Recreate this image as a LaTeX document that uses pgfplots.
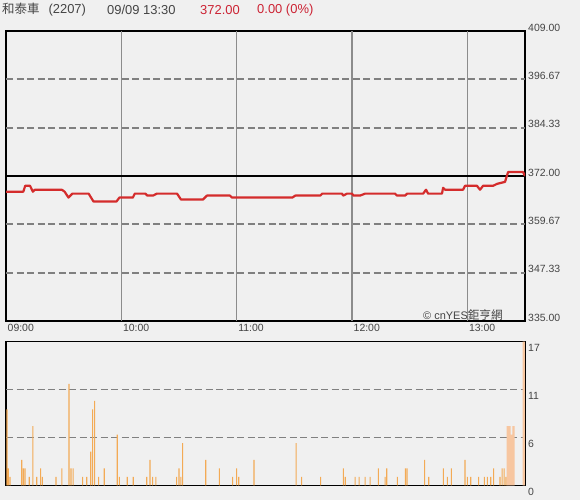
\documentclass[border=0pt]{standalone}
\usepackage{fontspec}
\setmainfont{Liberation Sans}
\newfontfamily\cjk{Noto Sans CJK TC}
\usepackage{pgfplots}
\pgfplotsset{compat=1.18}
\definecolor{bg}{HTML}{F0F0F0}
\definecolor{gridc}{HTML}{808080}
\definecolor{vgridc}{HTML}{8C8C8C}
\definecolor{pricered}{HTML}{D42C2C}
\definecolor{titlered}{HTML}{CC2233}
\definecolor{txt}{HTML}{444444}
\definecolor{vol}{HTML}{F3AA55}
\definecolor{volpeach}{HTML}{F7C6A0}
\begin{document}
\begin{tikzpicture}
\path[use as bounding box, fill=bg] (0,0) rectangle (580bp,500bp);
% ---------- price panel ----------
\begin{axis}[
  scale only axis, width=519bp, height=290bp, at={(6bp,179bp)}, anchor=south west,
  xmin=0, xmax=270, ymin=335, ymax=409,
  axis line style={black, line width=1.4bp},
  xtick={0,60,120,180,240}, xticklabels={09:00,10:00,11:00,12:00,13:00},
  xticklabel style={anchor=north west, inner sep=0pt, xshift=1.5bp, yshift=-3bp},
  ytick={335,347.3333,359.6667,372,384.3333,396.6667,409},
  yticklabels={335.00,347.33,359.67,372.00,384.33,396.67,409.00},
  yticklabel pos=right,
  yticklabel style={anchor=west, inner sep=0pt, xshift=3bp, yshift=3.5bp},
  major tick length=0pt,
  tick label style={font=\fontsize{10.5}{12}\selectfont, text=txt},
]
\draw[vgridc, line width=1.3bp] (axis cs:60,335) -- (axis cs:60,409);
\draw[vgridc, line width=1.3bp] (axis cs:120,335) -- (axis cs:120,409);
\draw[vgridc, line width=1.3bp] (axis cs:180,335) -- (axis cs:180,409);
\draw[vgridc, line width=1.3bp] (axis cs:240,335) -- (axis cs:240,409);
\draw[gridc, line width=1.8bp, dash pattern=on 7bp off 3.5bp] (axis cs:0,347.3333) -- (axis cs:270,347.3333);
\draw[gridc, line width=1.8bp, dash pattern=on 7bp off 3.5bp] (axis cs:0,359.6667) -- (axis cs:270,359.6667);
\draw[gridc, line width=1.8bp, dash pattern=on 7bp off 3.5bp] (axis cs:0,384.3333) -- (axis cs:270,384.3333);
\draw[gridc, line width=1.8bp, dash pattern=on 7bp off 3.5bp] (axis cs:0,396.6667) -- (axis cs:270,396.6667);
\draw[black, line width=1.4bp] (axis cs:0,372) -- (axis cs:270,372);
\addplot[pricered, line width=2.2bp, line join=round] coordinates {
(0,368) (9,368) (10,369.5) (12.5,369.5) (14,368) (15,368.5) (29,368.5) (30.5,368)
(32.5,366.5) (34.5,367.5) (43,367.5) (45.5,365.5) (57.5,365.5) (59,366.5) (66,366.5)
(67,367.5) (72.5,367.5) (73.5,367) (76.5,367) (78.5,367.5) (89,367.5) (91,366)
(102.5,366) (104.5,367) (116.5,367) (117.5,366.5) (149,366.5) (150.5,367) (163.5,367)
(164.5,367.5) (174.8,367.5) (175.4,367) (177.4,367.5) (180,367.5) (180.8,367) (184.2,367)
(186.8,367.5) (202.4,367.5) (203.4,367) (207.6,367) (208.7,367.5) (217,367.5) (218.5,368.5)
(219.6,367.5) (226.8,367.5) (227.4,369) (228.4,368.5) (237.8,368.5) (238.8,369.5) (245,369.5)
(246.6,368.5) (248.2,369.5) (253.4,369.5) (255.5,370) (259.6,370.5) (261.2,373) (269,373) (270,372)
};
\end{axis}
% ---------- volume panel ----------
\begin{axis}[
  scale only axis, width=519bp, height=143.6bp, at={(6bp,14.7bp)}, anchor=south west,
  xmin=0, xmax=270, ymin=0, ymax=17,
  axis line style={black, line width=1.4bp},
  xtick=\empty,
  ytick={0,5.6667,11.3333,17}, yticklabels={0,6,11,17},
  yticklabel pos=right,
  yticklabel style={anchor=west, inner sep=0pt, xshift=3bp, yshift=-6.5bp},
  major tick length=0pt,
  tick label style={font=\fontsize{10.5}{12}\selectfont, text=txt},
]
\draw[gridc, line width=1.8bp, dash pattern=on 7bp off 3.5bp] (axis cs:0,5.6667) -- (axis cs:270,5.6667);
\draw[gridc, line width=1.8bp, dash pattern=on 7bp off 3.5bp] (axis cs:0,11.3333) -- (axis cs:270,11.3333);
\addplot[ybar, bar width=1.1bp, bar shift=0pt, fill=vol, draw=none] coordinates {
(0.5,9) (1.2,2) (2.1,1) (8.2,3) (9,2) (9.9,2) (12.1,1) (14,7) (16,1) (18,2) (18.9,1)
(26,1) (29.1,2) (32.8,12) (33.8,2) (34.9,2) (39.9,1) (42,1) (44.1,4) (45.1,9) (46.1,10)
(48.2,1) (51.1,2) (57.9,6) (59,1) (63.1,1) (66.2,1) (73.2,1) (74.9,3) (76.3,1) (78,1)
(88.8,1) (90,2) (91,1) (91.9,5) (103.9,3) (111,2) (117.9,1) (120,2) (121.1,1) (129,3)
(150.9,5) (153.8,1) (163.7,1) (175.5,2) (176.5,1) (181.6,1) (183.7,1) (186.8,1) (189.4,1)
(193.7,2) (197.2,1) (198.1,2) (203.6,1) (207.8,2) (208.6,2) (217.8,3) (219.9,1) (227.5,2)
(229.6,1) (231.7,2) (238.8,3) (240,1) (241.8,1) (245.9,1) (248.9,1) (250.4,1) (252.2,1)
(253.7,2) (257,1) (258.1,2) (259.1,2) (260.1,1)
};
\addplot[ybar, bar width=2.2bp, bar shift=0pt, fill=volpeach, draw=none] coordinates {
(261,7) (262,7) (263,6) (264,7) (269.3,17)
};
\end{axis}
% ---------- titles ----------
\node[anchor=west, inner sep=0pt, text=txt, font=\fontsize{13}{15}\selectfont] at (2bp,490bp) {{\cjk\fontsize{12.5}{15}\selectfont 和泰車}\hspace{9bp}(2207)};
\node[anchor=west, inner sep=0pt, text=txt, font=\fontsize{13}{15}\selectfont] at (107bp,490bp) {09/09 13:30};
\node[anchor=west, inner sep=0pt, text=titlered, font=\fontsize{13}{15}\selectfont] at (200bp,490bp) {372.00};
\node[anchor=west, inner sep=0pt, text=titlered, font=\fontsize{13}{15}\selectfont] at (257bp,490bp) {0.00 (0\%)};
\node[anchor=west, inner sep=0pt, text=txt, font=\fontsize{11}{13}\selectfont] at (423bp,185bp) {© cnYES{\cjk\fontsize{11.7}{13}\selectfont 鉅亨網}};
\end{tikzpicture}
\end{document}
